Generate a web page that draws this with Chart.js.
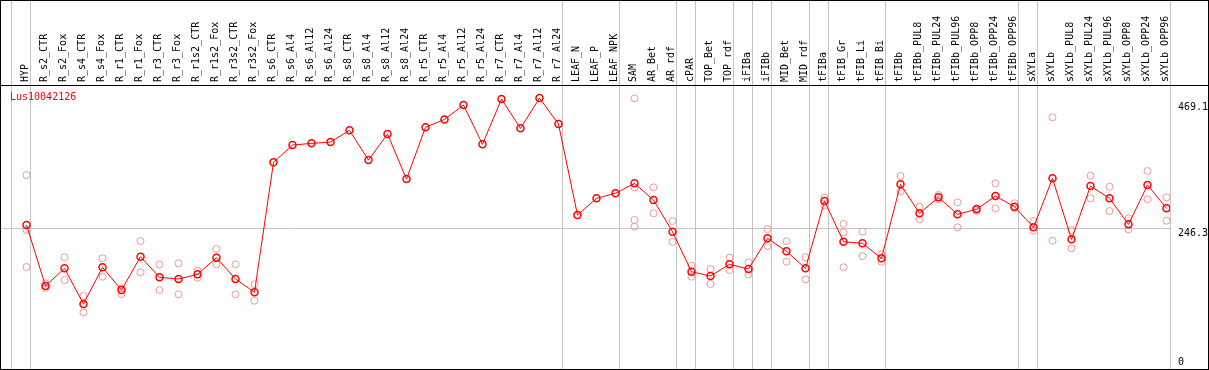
<!DOCTYPE html>
<html>
<head>
<meta charset="utf-8">
<script src="https://cdn.jsdelivr.net/npm/chart.js@4.4.0/dist/chart.umd.min.js"></script>
<style>
  body { margin: 0; background: #fff; }
  canvas { display: block; }
</style>
</head>
<body>
<canvas id="chart" width="1209" height="370"></canvas>
<script>
const geneId = 'Lus10042126';

const categories = [
  'HYP', 'R_s2_CTR', 'R_s2_Fox', 'R_s4_CTR', 'R_s4_Fox', 'R_r1_CTR', 'R_r1_Fox', 'R_r3_CTR', 'R_r3_Fox',
  'R_r1s2_CTR', 'R_r1s2_Fox', 'R_r3s2_CTR', 'R_r3s2_Fox',
  'R_s6_CTR', 'R_s6_Al4', 'R_s6_Al12', 'R_s6_Al24', 'R_s8_CTR', 'R_s8_Al4', 'R_s8_Al12', 'R_s8_Al24',
  'R_r5_CTR', 'R_r5_Al4', 'R_r5_Al12', 'R_r5_Al24', 'R_r7_CTR', 'R_r7_Al4', 'R_r7_Al12', 'R_r7_Al24',
  'LEAF_N', 'LEAF_P', 'LEAF_NPK', 'SAM', 'AR_Bet', 'AR_rdf', 'cPAR', 'TOP_Bet', 'TOP_rdf',
  'iFIBa', 'iFIBb', 'MID_Bet', 'MID_rdf', 'tFIBa', 'tFIB_Gr', 'tFIB_Li', 'tFIB_Bi', 'tFIBb',
  'tFIBb_PUL8', 'tFIBb_PUL24', 'tFIBb_PUL96', 'tFIBb_OPP8', 'tFIBb_OPP24', 'tFIBb_OPP96',
  'sXYLa', 'sXYLb', 'sXYLb_PUL8', 'sXYLb_PUL24', 'sXYLb_PUL96', 'sXYLb_OPP8', 'sXYLb_OPP24', 'sXYLb_OPP96'
];

// mean expression per sample
const means = [
  251.6, 144.3, 175.4, 112.6, 177.2, 137.2, 195.8, 159.6, 156.6, 164.8, 194.1, 156.6, 133.2,
  361.9, 392.3, 395.3, 397.6, 418.2, 365.9, 411.7, 332.5, 423.5, 437.5, 462.7, 393.6, 473.3, 421.7, 475.0, 429.3,
  269.2, 298.6, 307.3,
  324.9, 295.6, 239.8, 169.4, 161.9, 182.4, 174.2, 228.2, 205.3, 175.4, 293.8, 222.2, 219.4, 193.0,
  323.2, 272.2, 300.3, 270.4, 279.2, 302.6, 283.8, 247.5,
  333.7, 226.4, 320.2, 298.6, 252.8, 321.9, 281.0
];

// single replicates, one list per sample
const replicates = [
  [339.5, 242.8, 177.7], [149.0, 140.7], [194.8, 154.8], [126.7, 98.0], [193.0, 160.6],
  [140.2, 130.2], [223.4, 168.4], [182.4, 137.2], [184.2, 129.7], [171.2, 158.9],
  [209.4, 182.4], [182.4, 129.7], [147.3, 118.4],
  [], [], [], [], [], [], [], [], [], [], [], [], [], [], [], [],
  [], [], [],
  [474.5, 317.9, 260.4, 248.6], [317.9, 272.2], [258.6, 222.2], [180.0, 160.6], [174.2, 147.8],
  [194.1, 172.4], [186.0, 164.8], [244.5, 214.6], [222.9, 187.0], [194.8, 156.0],
  [299.6, 285.5], [253.3, 238.7, 177.2], [239.8, 197.0], [200.6, 187.0],
  [337.8, 310.5], [283.8, 261.6], [304.4, 296.8], [291.5, 247.5], [281.0, 276.2],
  [324.9, 281.0], [289.8, 281.0], [258.6, 241.5],
  [441.0, 224.0], [242.8, 210.6], [338.3, 298.6], [319.0, 276.2], [263.4, 244.0],
  [346.6, 296.8], [300.3, 259.1]
];

// index of the last sample in each group (separator drawn after it)
const groupEnds = [0, 28, 31, 34, 35, 37, 38, 39, 41, 42, 45, 52, 53, 60];
const yTicks = [0, 246.3, 469.1];

const MONO = '"DejaVu Sans Mono", monospace';
const RED = '#ff0000';
const PINK = '#ea9999';
const GREY = '#c4c4c4';
const SHIFT = 0.1842; // separators sit just right of each point

const repPoints = [];
replicates.forEach((list, i) => list.forEach(v => repPoints.push({ x: i, y: v })));

const framePlugin = {
    id: 'frame',
    beforeDatasetsDraw(chart) {
        const { ctx, chartArea, scales } = chart;
        ctx.save();
        ctx.strokeStyle = GREY;
        ctx.lineWidth = 1;
        const seps = [-1].concat(groupEnds);
        seps.forEach(g => {
            const x = Math.round(scales.x.getPixelForValue(g + SHIFT)) + 0.5;
            ctx.beginPath();
            ctx.moveTo(x, 0);
            ctx.lineTo(x, chart.height);
            ctx.stroke();
        });
        const y = Math.round(scales.y.getPixelForValue(yTicks[1])) + 0.5;
        ctx.beginPath();
        ctx.moveTo(0, y);
        ctx.lineTo(chartArea.right, y);
        ctx.stroke();
        ctx.restore();
    },
    afterDraw(chart) {
        const { ctx, chartArea } = chart;
        ctx.save();
        ctx.strokeStyle = '#000';
        ctx.lineWidth = 1;
        ctx.strokeRect(0.5, 0.5, chart.width - 1, chart.height - 1);
        ctx.beginPath();
        ctx.moveTo(0, chartArea.top + 0.5);
        ctx.lineTo(chart.width, chartArea.top + 0.5);
        ctx.stroke();
        ctx.fillStyle = RED;
        ctx.font = '10px ' + MONO;
        ctx.textBaseline = 'top';
        ctx.fillText(geneId, chartArea.left - 1, chartArea.top + 7);
        ctx.restore();
    }
};

new Chart(document.getElementById('chart'), {
    type: 'line',
    data: {
        datasets: [{
            label: geneId,
            data: means.map((v, i) => ({ x: i, y: v })),
            borderColor: RED,
            borderWidth: 1,
            pointRadius: 3.5,
            pointBorderWidth: 1.5,
            pointBorderColor: RED,
            pointBackgroundColor: 'transparent',
            tension: 0,
            order: 0
        }, {
            type: 'scatter',
            label: 'replicates',
            data: repPoints,
            showLine: false,
            pointRadius: 3.5,
            pointBorderWidth: 1,
            pointBorderColor: PINK,
            pointBackgroundColor: 'transparent',
            order: 1
        }]
    },
    options: {
        responsive: false,
        animation: false,
        devicePixelRatio: 1,
        layout: { autoPadding: false, padding: { left: 11, top: 0, right: 0, bottom: 2 } },
        plugins: { legend: { display: false }, tooltip: { enabled: false } },
        scales: {
            x: {
                type: 'linear',
                position: 'top',
                min: -1 + SHIFT,
                max: categories.length - 1 + SHIFT,
                afterBuildTicks: s => { s.ticks = categories.map((c, i) => ({ value: i })); },
                afterFit: s => { s.height = 85; s.paddingLeft = 0; s.paddingRight = 0; },
                grid: { display: false, drawTicks: false },
                border: { display: false },
                ticks: {
                    autoSkip: false,
                    minRotation: 90,
                    maxRotation: 90,
                    padding: 3,
                    labelOffset: 11,
                    color: '#000',
                    font: { family: MONO, size: 10 },
                    callback: v => categories[v]
                }
            },
            y: {
                position: 'right',
                min: 0,
                max: 498,
                afterBuildTicks: s => { s.ticks = yTicks.map(v => ({ value: v })); },
                afterFit: s => { s.width = 39; s.paddingTop = 0; s.paddingBottom = 0; },
                grid: { display: false, drawTicks: false },
                border: { display: false },
                ticks: {
                    padding: 8,
                    crossAlign: 'near',
                    color: '#000',
                    font: { family: MONO, size: 10, lineHeight: 1.1 },
                    // push the label below the level, except the zero label which sits above
                    callback: v => v === 0 ? ['0', ''] : ['', v.toFixed(1)]
                }
            }
        }
    },
    plugins: [framePlugin]
});
</script>
</body>
</html>
